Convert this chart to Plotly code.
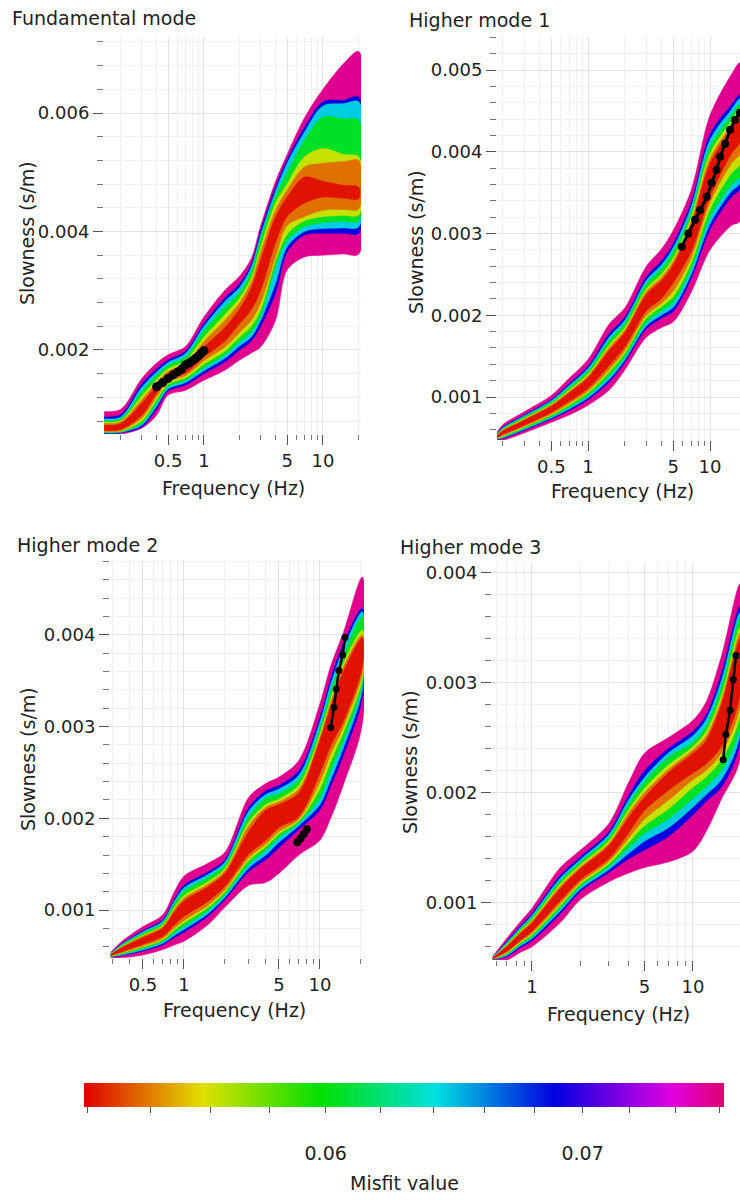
import math
import plotly.graph_objects as go
from plotly.colors import sample_colorscale

FIG_W, FIG_H = 740, 1200
FONT = "DejaVu Sans"
TXT = "#222222"

# ---------------- misfit scale ----------------
MISFIT_MIN = 0.0519
MISFIT_MAX = 0.0762
# misfit of each drawn band, outer (worst) -> inner (best)
LEVEL_MISFIT = [0.0755, 0.069, 0.0645, 0.0605, 0.0562, 0.0538, 0.0522]
CB_TICKS = [0.052, 0.054, 0.056, 0.058, 0.06, 0.062, 0.064, 0.066, 0.068, 0.07, 0.072, 0.074, 0.076]
CB_TEXT = ["", "", "", "", "<br>0.06", "", "", "", "", "<br>0.07", "", "", ""]

COLORSCALE = [
    [0.0, "rgb(224,0,0)"], [0.093, "rgb(224,112,0)"], [0.186, "rgb(224,224,0)"],
    [0.278, "rgb(112,224,0)"], [0.37, "rgb(0,224,0)"], [0.46, "rgb(0,224,112)"],
    [0.55, "rgb(0,224,224)"], [0.643, "rgb(0,112,224)"], [0.735, "rgb(0,0,224)"],
    [0.826, "rgb(112,0,224)"], [0.917, "rgb(224,0,224)"], [1.0, "rgb(224,0,112)"],
]

# ---------------- axis ticks ----------------
X_MAJOR = [0.5, 1, 5, 10]
X_MAJOR_TEXT = ["0.5", "1", "5", "10"]
X_MINOR = [0.2, 0.3, 0.4, 0.6, 0.7, 0.8, 0.9, 2, 3, 4, 6, 7, 8, 9, 20]

FUND_Y_MAJOR = [0.002, 0.004, 0.006]
FUND_Y_MAJOR_TEXT = ["0.002", "0.004", "0.006"]
FUND_Y_MINOR = [0.0008, 0.0012, 0.0016, 0.0024, 0.0028, 0.0032, 0.0036,
                0.0044, 0.0048, 0.0052, 0.0056, 0.0064, 0.0068, 0.0072]
HM_Y_MAJOR = [0.001, 0.002, 0.003, 0.004, 0.005]
HM_Y_MAJOR_TEXT = ["0.001", "0.002", "0.003", "0.004", "0.005"]
HM_Y_MINOR = [0.0006, 0.0008, 0.0012, 0.0014, 0.0016, 0.0018, 0.0022, 0.0024, 0.0026, 0.0028,
              0.0032, 0.0034, 0.0036, 0.0038, 0.0042, 0.0044, 0.0046, 0.0048, 0.0052, 0.0054]

# ---------------- Fundamental mode ----------------
FUND_F = [0.145, 0.2, 0.3, 0.4, 0.5, 0.7, 1, 1.5, 2, 2.5, 3, 4, 5, 7, 10, 15, 20]
FUND_UPPER = [
    [0.96e-3, 1.00e-3, 1.52e-3, 1.78e-3, 1.92e-3, 2.06e-3, 2.56e-3, 3.01e-3, 3.25e-3, 3.55e-3, 4.10e-3, 4.85e-3, 5.30e-3, 5.92e-3, 6.40e-3, 6.84e-3, 7.04e-3],
    [0.87e-3, 0.91e-3, 1.43e-3, 1.68e-3, 1.83e-3, 1.98e-3, 2.45e-3, 2.88e-3, 3.12e-3, 3.45e-3, 4.02e-3, 4.75e-3, 5.21e-3, 5.76e-3, 6.19e-3, 6.22e-3, 6.27e-3],
    [0.84e-3, 0.87e-3, 1.37e-3, 1.63e-3, 1.79e-3, 1.94e-3, 2.40e-3, 2.82e-3, 3.06e-3, 3.40e-3, 3.95e-3, 4.68e-3, 5.15e-3, 5.68e-3, 6.12e-3, 6.16e-3, 6.19e-3],
    [0.81e-3, 0.84e-3, 1.30e-3, 1.57e-3, 1.74e-3, 1.88e-3, 2.32e-3, 2.72e-3, 2.98e-3, 3.33e-3, 3.89e-3, 4.60e-3, 4.99e-3, 5.54e-3, 5.93e-3, 5.90e-3, 5.88e-3],
    [0.78e-3, 0.81e-3, 1.22e-3, 1.50e-3, 1.68e-3, 1.82e-3, 2.22e-3, 2.60e-3, 2.88e-3, 3.22e-3, 3.74e-3, 4.48e-3, 4.80e-3, 5.26e-3, 5.40e-3, 5.30e-3, 5.26e-3],
    [0.76e-3, 0.79e-3, 1.16e-3, 1.45e-3, 1.64e-3, 1.77e-3, 2.14e-3, 2.50e-3, 2.80e-3, 3.15e-3, 3.65e-3, 4.36e-3, 4.70e-3, 5.09e-3, 5.15e-3, 5.18e-3, 5.20e-3],
    [0.73e-3, 0.76e-3, 1.10e-3, 1.40e-3, 1.60e-3, 1.72e-3, 2.05e-3, 2.38e-3, 2.70e-3, 3.05e-3, 3.52e-3, 4.25e-3, 4.58e-3, 4.92e-3, 4.85e-3, 4.78e-3, 4.75e-3],
]
FUND_LOWER = [
    [0.58e-3, 0.58e-3, 0.68e-3, 0.90e-3, 1.24e-3, 1.32e-3, 1.49e-3, 1.66e-3, 1.83e-3, 1.95e-3, 2.05e-3, 2.50e-3, 3.35e-3, 3.57e-3, 3.60e-3, 3.62e-3, 3.62e-3],
    [0.59e-3, 0.60e-3, 0.70e-3, 1.00e-3, 1.31e-3, 1.41e-3, 1.60e-3, 1.80e-3, 2.00e-3, 2.15e-3, 2.40e-3, 2.96e-3, 3.65e-3, 3.94e-3, 3.97e-3, 3.97e-3, 3.97e-3],
    [0.60e-3, 0.61e-3, 0.73e-3, 1.05e-3, 1.34e-3, 1.45e-3, 1.65e-3, 1.86e-3, 2.07e-3, 2.22e-3, 2.50e-3, 3.13e-3, 3.74e-3, 4.00e-3, 4.05e-3, 4.06e-3, 4.08e-3],
    [0.61e-3, 0.62e-3, 0.76e-3, 1.10e-3, 1.38e-3, 1.49e-3, 1.70e-3, 1.92e-3, 2.14e-3, 2.30e-3, 2.58e-3, 3.40e-3, 3.85e-3, 4.08e-3, 4.15e-3, 4.17e-3, 4.18e-3],
    [0.62e-3, 0.63e-3, 0.80e-3, 1.16e-3, 1.42e-3, 1.53e-3, 1.76e-3, 1.98e-3, 2.22e-3, 2.40e-3, 2.68e-3, 3.50e-3, 3.95e-3, 4.18e-3, 4.25e-3, 4.27e-3, 4.28e-3],
    [0.63e-3, 0.64e-3, 0.85e-3, 1.21e-3, 1.46e-3, 1.57e-3, 1.82e-3, 2.05e-3, 2.30e-3, 2.50e-3, 2.80e-3, 3.57e-3, 4.10e-3, 4.25e-3, 4.36e-3, 4.37e-3, 4.38e-3],
    [0.64e-3, 0.66e-3, 0.90e-3, 1.27e-3, 1.50e-3, 1.61e-3, 1.88e-3, 2.15e-3, 2.45e-3, 2.68e-3, 3.01e-3, 3.81e-3, 4.25e-3, 4.48e-3, 4.58e-3, 4.56e-3, 4.55e-3],
]
FUND_OBS_F = [0.4, 0.45, 0.5, 0.55, 0.6, 0.65, 0.7, 0.75, 0.8, 0.85, 0.9, 0.95, 1.0]
FUND_OBS_S = [1.38e-3, 1.45e-3, 1.52e-3, 1.58e-3, 1.63e-3, 1.68e-3, 1.75e-3, 1.78e-3, 1.82e-3, 1.86e-3, 1.90e-3, 1.95e-3, 1.99e-3]

# ---------------- Higher mode 1 ----------------
HM1_F = [0.18, 0.2, 0.3, 0.5, 0.7, 1, 1.5, 2, 3, 4, 5, 7, 10, 15, 17.6]
HM1_UPPER = [
    [0.57e-3, 0.66e-3, 0.82e-3, 1.02e-3, 1.23e-3, 1.46e-3, 1.90e-3, 2.09e-3, 2.60e-3, 2.81e-3, 3.04e-3, 3.53e-3, 4.45e-3, 4.95e-3, 5.09e-3],
    [0.555e-3, 0.632e-3, 0.781e-3, 0.97e-3, 1.163e-3, 1.376e-3, 1.78e-3, 1.976e-3, 2.47e-3, 2.666e-3, 2.88e-3, 3.38e-3, 4.22e-3, 4.58e-3, 4.70e-3],
    [0.55e-3, 0.622e-3, 0.768e-3, 0.954e-3, 1.14e-3, 1.348e-3, 1.738e-3, 1.938e-3, 2.426e-3, 2.618e-3, 2.83e-3, 3.33e-3, 4.15e-3, 4.52e-3, 4.65e-3],
    [0.545e-3, 0.612e-3, 0.755e-3, 0.937e-3, 1.118e-3, 1.32e-3, 1.698e-3, 1.90e-3, 2.383e-3, 2.57e-3, 2.78e-3, 3.26e-3, 4.06e-3, 4.45e-3, 4.58e-3],
    [0.538e-3, 0.599e-3, 0.737e-3, 0.914e-3, 1.086e-3, 1.281e-3, 1.641e-3, 1.847e-3, 2.322e-3, 2.503e-3, 2.70e-3, 3.20e-3, 3.98e-3, 4.38e-3, 4.52e-3],
    [0.534e-3, 0.592e-3, 0.726e-3, 0.901e-3, 1.068e-3, 1.258e-3, 1.608e-3, 1.816e-3, 2.287e-3, 2.464e-3, 2.66e-3, 3.15e-3, 3.92e-3, 4.33e-3, 4.48e-3],
    [0.53e-3, 0.584e-3, 0.716e-3, 0.888e-3, 1.05e-3, 1.236e-3, 1.576e-3, 1.786e-3, 2.252e-3, 2.426e-3, 2.62e-3, 3.10e-3, 3.86e-3, 4.28e-3, 4.43e-3],
]
HM1_LOWER = [
    [0.47e-3, 0.47e-3, 0.56e-3, 0.69e-3, 0.78e-3, 0.90e-3, 1.09e-3, 1.33e-3, 1.73e-3, 1.85e-3, 1.92e-3, 2.28e-3, 2.80e-3, 3.10e-3, 3.15e-3],
    [0.482e-3, 0.493e-3, 0.591e-3, 0.73e-3, 0.834e-3, 0.967e-3, 1.187e-3, 1.421e-3, 1.834e-3, 1.965e-3, 2.05e-3, 2.45e-3, 3.05e-3, 3.45e-3, 3.55e-3],
    [0.486e-3, 0.50e-3, 0.602e-3, 0.743e-3, 0.852e-3, 0.99e-3, 1.22e-3, 1.452e-3, 1.869e-3, 2.004e-3, 2.10e-3, 2.50e-3, 3.12e-3, 3.52e-3, 3.62e-3],
    [0.49e-3, 0.51e-3, 0.615e-3, 0.759e-3, 0.875e-3, 1.018e-3, 1.26e-3, 1.49e-3, 1.913e-3, 2.052e-3, 2.16e-3, 2.57e-3, 3.20e-3, 3.60e-3, 3.70e-3],
    [0.494e-3, 0.521e-3, 0.63e-3, 0.779e-3, 0.902e-3, 1.051e-3, 1.309e-3, 1.535e-3, 1.965e-3, 2.109e-3, 2.23e-3, 2.64e-3, 3.30e-3, 3.74e-3, 3.85e-3],
    [0.498e-3, 0.529e-3, 0.641e-3, 0.792e-3, 0.92e-3, 1.074e-3, 1.341e-3, 1.566e-3, 2.00e-3, 2.148e-3, 2.30e-3, 2.70e-3, 3.38e-3, 3.86e-3, 3.98e-3],
    [0.505e-3, 0.54e-3, 0.656e-3, 0.812e-3, 0.947e-3, 1.107e-3, 1.39e-3, 1.611e-3, 2.052e-3, 2.205e-3, 2.40e-3, 2.78e-3, 3.45e-3, 3.98e-3, 4.12e-3],
]
HM1_OBS_F = [5.86, 6.64, 7.53, 8.28, 9.4, 10.3, 11.3, 12.1, 13.3, 14.6, 16.0, 17.6, 19.0]
HM1_OBS_S = [2.84e-3, 3.00e-3, 3.17e-3, 3.29e-3, 3.45e-3, 3.62e-3, 3.78e-3, 3.94e-3, 4.10e-3, 4.27e-3, 4.39e-3, 4.48e-3, 4.56e-3]

# ---------------- Higher mode 2 ----------------
HM2_F = [0.29, 0.35, 0.5, 0.7, 0.85, 1, 1.5, 2, 3, 4, 5, 7, 10, 12, 15, 20.5]
HM2_UPPER = [
    [0.54e-3, 0.66e-3, 0.82e-3, 0.95e-3, 1.20e-3, 1.37e-3, 1.51e-3, 1.63e-3, 2.23e-3, 2.38e-3, 2.45e-3, 2.63e-3, 3.25e-3, 3.66e-3, 4.04e-3, 4.63e-3],
    [0.532e-3, 0.635e-3, 0.777e-3, 0.897e-3, 1.119e-3, 1.271e-3, 1.416e-3, 1.546e-3, 2.12e-3, 2.30e-3, 2.36e-3, 2.52e-3, 3.10e-3, 3.52e-3, 3.92e-3, 4.29e-3],
    [0.529e-3, 0.628e-3, 0.764e-3, 0.882e-3, 1.096e-3, 1.242e-3, 1.389e-3, 1.522e-3, 2.08e-3, 2.26e-3, 2.32e-3, 2.47e-3, 3.05e-3, 3.46e-3, 3.86e-3, 4.25e-3],
    [0.526e-3, 0.619e-3, 0.749e-3, 0.863e-3, 1.067e-3, 1.207e-3, 1.356e-3, 1.492e-3, 2.02e-3, 2.22e-3, 2.27e-3, 2.42e-3, 2.98e-3, 3.38e-3, 3.78e-3, 4.20e-3],
    [0.522e-3, 0.606e-3, 0.727e-3, 0.836e-3, 1.026e-3, 1.157e-3, 1.309e-3, 1.45e-3, 1.96e-3, 2.15e-3, 2.21e-3, 2.36e-3, 2.92e-3, 3.30e-3, 3.70e-3, 4.05e-3],
    [0.52e-3, 0.599e-3, 0.715e-3, 0.821e-3, 1.003e-3, 1.129e-3, 1.282e-3, 1.426e-3, 1.92e-3, 2.12e-3, 2.18e-3, 2.32e-3, 2.88e-3, 3.26e-3, 3.66e-3, 4.00e-3],
    [0.517e-3, 0.592e-3, 0.702e-3, 0.806e-3, 0.98e-3, 1.10e-3, 1.255e-3, 1.402e-3, 1.86e-3, 2.09e-3, 2.15e-3, 2.28e-3, 2.85e-3, 3.22e-3, 3.61e-3, 3.97e-3],
]
HM2_LOWER = [
    [0.48e-3, 0.48e-3, 0.51e-3, 0.57e-3, 0.62e-3, 0.66e-3, 0.84e-3, 1.03e-3, 1.27e-3, 1.30e-3, 1.40e-3, 1.60e-3, 1.76e-3, 2.00e-3, 2.38e-3, 3.03e-3],
    [0.488e-3, 0.505e-3, 0.553e-3, 0.623e-3, 0.701e-3, 0.759e-3, 0.934e-3, 1.114e-3, 1.42e-3, 1.55e-3, 1.68e-3, 1.88e-3, 2.09e-3, 2.35e-3, 2.70e-3, 3.32e-3],
    [0.491e-3, 0.512e-3, 0.566e-3, 0.638e-3, 0.724e-3, 0.788e-3, 0.961e-3, 1.138e-3, 1.46e-3, 1.60e-3, 1.74e-3, 1.92e-3, 2.15e-3, 2.42e-3, 2.78e-3, 3.40e-3],
    [0.494e-3, 0.521e-3, 0.581e-3, 0.657e-3, 0.753e-3, 0.823e-3, 0.994e-3, 1.168e-3, 1.50e-3, 1.65e-3, 1.79e-3, 1.95e-3, 2.22e-3, 2.52e-3, 2.86e-3, 3.48e-3],
    [0.497e-3, 0.53e-3, 0.597e-3, 0.676e-3, 0.782e-3, 0.859e-3, 1.028e-3, 1.198e-3, 1.54e-3, 1.69e-3, 1.83e-3, 1.97e-3, 2.32e-3, 2.62e-3, 2.95e-3, 3.52e-3],
    [0.499e-3, 0.538e-3, 0.609e-3, 0.692e-3, 0.806e-3, 0.887e-3, 1.054e-3, 1.222e-3, 1.57e-3, 1.72e-3, 1.86e-3, 1.99e-3, 2.40e-3, 2.70e-3, 3.01e-3, 3.58e-3],
    [0.503e-3, 0.548e-3, 0.628e-3, 0.714e-3, 0.84e-3, 0.93e-3, 1.095e-3, 1.258e-3, 1.61e-3, 1.76e-3, 1.90e-3, 2.02e-3, 2.49e-3, 2.79e-3, 3.07e-3, 3.65e-3],
]
HM2_OBS_A_F = [12.0, 12.7, 13.2, 13.8, 14.7, 15.3]
HM2_OBS_A_S = [2.99e-3, 3.21e-3, 3.41e-3, 3.61e-3, 3.78e-3, 3.97e-3]
HM2_OBS_B_F = [6.8, 7.2, 7.6, 8.0]
HM2_OBS_B_S = [1.74e-3, 1.78e-3, 1.83e-3, 1.88e-3]

# ---------------- Higher mode 3 ----------------
HM3_F = [0.57, 0.7, 0.85, 1, 1.5, 2, 3, 4, 5, 7, 10, 12, 15, 19.6]
HM3_UPPER = [
    [0.51e-3, 0.68e-3, 0.83e-3, 0.95e-3, 1.32e-3, 1.48e-3, 1.72e-3, 2.10e-3, 2.36e-3, 2.50e-3, 2.66e-3, 2.82e-3, 3.24e-3, 3.90e-3],
    [0.506e-3, 0.652e-3, 0.791e-3, 0.901e-3, 1.25e-3, 1.417e-3, 1.646e-3, 1.98e-3, 2.20e-3, 2.40e-3, 2.56e-3, 2.70e-3, 3.08e-3, 3.70e-3],
    [0.504e-3, 0.642e-3, 0.777e-3, 0.884e-3, 1.225e-3, 1.395e-3, 1.619e-3, 1.94e-3, 2.14e-3, 2.36e-3, 2.52e-3, 2.66e-3, 3.02e-3, 3.64e-3],
    [0.503e-3, 0.632e-3, 0.763e-3, 0.866e-3, 1.20e-3, 1.372e-3, 1.593e-3, 1.90e-3, 2.10e-3, 2.32e-3, 2.46e-3, 2.60e-3, 2.96e-3, 3.58e-3],
    [0.501e-3, 0.62e-3, 0.746e-3, 0.845e-3, 1.17e-3, 1.345e-3, 1.561e-3, 1.85e-3, 2.04e-3, 2.25e-3, 2.42e-3, 2.55e-3, 2.88e-3, 3.50e-3],
    [0.50e-3, 0.612e-3, 0.735e-3, 0.831e-3, 1.15e-3, 1.327e-3, 1.54e-3, 1.82e-3, 2.00e-3, 2.21e-3, 2.39e-3, 2.51e-3, 2.84e-3, 3.45e-3],
    [0.499e-3, 0.604e-3, 0.724e-3, 0.817e-3, 1.13e-3, 1.309e-3, 1.519e-3, 1.78e-3, 1.96e-3, 2.18e-3, 2.36e-3, 2.47e-3, 2.80e-3, 3.40e-3],
]
HM3_LOWER = [
    [0.48e-3, 0.48e-3, 0.55e-3, 0.60e-3, 0.82e-3, 1.03e-3, 1.19e-3, 1.27e-3, 1.32e-3, 1.37e-3, 1.47e-3, 1.64e-3, 1.94e-3, 2.30e-3],
    [0.485e-3, 0.512e-3, 0.595e-3, 0.656e-3, 0.90e-3, 1.102e-3, 1.275e-3, 1.40e-3, 1.48e-3, 1.60e-3, 1.80e-3, 1.92e-3, 2.05e-3, 2.45e-3],
    [0.486e-3, 0.522e-3, 0.609e-3, 0.674e-3, 0.925e-3, 1.125e-3, 1.301e-3, 1.45e-3, 1.56e-3, 1.68e-3, 1.87e-3, 1.98e-3, 2.12e-3, 2.52e-3],
    [0.488e-3, 0.532e-3, 0.623e-3, 0.691e-3, 0.95e-3, 1.147e-3, 1.328e-3, 1.50e-3, 1.63e-3, 1.76e-3, 1.95e-3, 2.05e-3, 2.20e-3, 2.60e-3],
    [0.489e-3, 0.542e-3, 0.637e-3, 0.709e-3, 0.975e-3, 1.17e-3, 1.354e-3, 1.55e-3, 1.70e-3, 1.85e-3, 2.05e-3, 2.14e-3, 2.30e-3, 2.70e-3],
    [0.49e-3, 0.55e-3, 0.648e-3, 0.723e-3, 0.995e-3, 1.188e-3, 1.376e-3, 1.59e-3, 1.76e-3, 1.93e-3, 2.12e-3, 2.20e-3, 2.36e-3, 2.78e-3],
    [0.492e-3, 0.56e-3, 0.662e-3, 0.74e-3, 1.02e-3, 1.21e-3, 1.402e-3, 1.64e-3, 1.84e-3, 2.02e-3, 2.18e-3, 2.26e-3, 2.42e-3, 2.88e-3],
]
HM3_OBS_F = [15.4, 16.0, 17.0, 17.8, 18.5]
HM3_OBS_S = [2.30e-3, 2.53e-3, 2.75e-3, 3.03e-3, 3.25e-3]


# ---------------- helpers ----------------
def pxx(p):
    return p / FIG_W


def pxy(p):
    return 1 - p / FIG_H


LOG_MIN, LOG_MAX = math.log10(MISFIT_MIN), math.log10(MISFIT_MAX)


def misfit_color(m):
    t = (math.log10(m) - LOG_MIN) / (LOG_MAX - LOG_MIN)
    return sample_colorscale(COLORSCALE, [t])[0]


PANELS = [
    dict(title="Fundamental mode", f=FUND_F, up=FUND_UPPER, lo=FUND_LOWER,
         obs=[(FUND_OBS_F, FUND_OBS_S, 9, 7)],
         xdom=(104, 361), ydom=(37, 434), xr=(0.1445, 20.9), yr=(0.000582, 0.007283),
         ymaj=FUND_Y_MAJOR, ymajt=FUND_Y_MAJOR_TEXT, ymin=FUND_Y_MINOR,
         tpos=(10, 18), ytpos=(27, 233), xtpos=(233, 488)),
    dict(title="Higher mode 1", f=HM1_F, up=HM1_UPPER, lo=HM1_LOWER,
         obs=[(HM1_OBS_F, HM1_OBS_S, 8, 3)],
         xdom=(497, 740), ydom=(37, 440), xr=(0.1795, 17.6), yr=(0.000474, 0.005406),
         ymaj=HM_Y_MAJOR, ymajt=HM_Y_MAJOR_TEXT, ymin=HM_Y_MINOR,
         tpos=(407, 20), ytpos=(416, 242), xtpos=(622, 491)),
    dict(title="Higher mode 2", f=HM2_F, up=HM2_UPPER, lo=HM2_LOWER,
         obs=[(HM2_OBS_A_F, HM2_OBS_A_S, 7, 2.5), (HM2_OBS_B_F, HM2_OBS_B_S, 8, 4)],
         xdom=(110, 364), ydom=(560, 958), xr=(0.286, 21.1), yr=(0.000478, 0.004815),
         ymaj=HM_Y_MAJOR, ymajt=HM_Y_MAJOR_TEXT, ymin=HM_Y_MINOR,
         tpos=(15, 545), ytpos=(28, 759), xtpos=(235, 1010)),
    dict(title="Higher mode 3", f=HM3_F, up=HM3_UPPER, lo=HM3_LOWER,
         obs=[(HM3_OBS_F, HM3_OBS_S, 7, 2.5)],
         xdom=(492, 740), ydom=(563, 960), xr=(0.565, 19.6), yr=(0.00048, 0.00409),
         ymaj=HM_Y_MAJOR, ymajt=HM_Y_MAJOR_TEXT, ymin=HM_Y_MINOR,
         tpos=(398, 547), ytpos=(410, 762), xtpos=(618, 1014)),
]

TITLE_FONT = dict(family=FONT, size=19, color=TXT)
TICK_FONT = dict(family=FONT, size=18, color=TXT)

fig = go.Figure()
layout = dict(
    width=FIG_W, height=FIG_H,
    margin=dict(l=0, r=0, t=0, b=0),
    paper_bgcolor="white", plot_bgcolor="white",
    showlegend=False,
    font=dict(family=FONT, size=18, color=TXT),
    annotations=[],
)

for i, p in enumerate(PANELS, start=1):
    xa = "x" if i == 1 else f"x{i}"
    ya = "y" if i == 1 else f"y{i}"
    xkey = "xaxis" if i == 1 else f"xaxis{i}"
    ykey = "yaxis" if i == 1 else f"yaxis{i}"

    for k, m in enumerate(LEVEL_MISFIT):
        col = misfit_color(m)
        fig.add_trace(go.Scatter(
            x=p["f"] + p["f"][::-1],
            y=p["up"][k] + p["lo"][k][::-1],
            xaxis=xa, yaxis=ya, mode="lines", fill="toself",
            fillcolor=col, line=dict(width=0.5, color=col, shape="spline", smoothing=0.9),
            hoverinfo="skip",
        ))
    for fx, sy, msize, lw in p["obs"]:
        fig.add_trace(go.Scatter(
            x=fx, y=sy, xaxis=xa, yaxis=ya, mode="lines+markers",
            line=dict(color="black", width=lw),
            marker=dict(color="black", size=msize),
            hoverinfo="skip",
        ))

    layout[xkey] = dict(
        type="log", anchor=ya,
        domain=[pxx(p["xdom"][0]), pxx(p["xdom"][1])],
        range=[math.log10(p["xr"][0]), math.log10(p["xr"][1])],
        tickmode="array", tickvals=X_MAJOR, ticktext=X_MAJOR_TEXT,
        ticks="outside", ticklen=10, tickwidth=1, tickcolor="#555555",
        showgrid=True, gridcolor="#e2e2e2", gridwidth=1,
        minor=dict(tickmode="array", tickvals=X_MINOR, ticks="outside", ticklen=5,
                   tickwidth=1, tickcolor="#777777", showgrid=True, gridcolor="#efefef"),
        showline=False, zeroline=False,
        tickfont=TICK_FONT,
    )
    layout[ykey] = dict(
        anchor=xa,
        domain=[pxy(p["ydom"][1]), pxy(p["ydom"][0])],
        range=[p["yr"][0], p["yr"][1]],
        tickmode="array", tickvals=p["ymaj"], ticktext=p["ymajt"],
        ticks="outside", ticklen=10, tickwidth=1, tickcolor="#555555",
        showgrid=True, gridcolor="#e2e2e2", gridwidth=1,
        minor=dict(tickmode="array", tickvals=p["ymin"], ticks="outside", ticklen=6,
                   tickwidth=1, tickcolor="#777777", showgrid=True, gridcolor="#efefef"),
        showline=False, zeroline=False,
        tickfont=TICK_FONT,
    )

    layout["annotations"] += [
        dict(text=p["title"], x=pxx(p["tpos"][0]), y=pxy(p["tpos"][1]),
             xref="paper", yref="paper", xanchor="left", yanchor="middle",
             showarrow=False, font=TITLE_FONT),
        dict(text="Slowness (s/m)", x=pxx(p["ytpos"][0]), y=pxy(p["ytpos"][1]),
             xref="paper", yref="paper", xanchor="center", yanchor="middle",
             textangle=-90, showarrow=False, font=TITLE_FONT),
        dict(text="Frequency (Hz)", x=pxx(p["xtpos"][0]), y=pxy(p["xtpos"][1]),
             xref="paper", yref="paper", xanchor="center", yanchor="middle",
             showarrow=False, font=TITLE_FONT),
    ]

# colour bar (shared misfit scale)
fig.add_trace(go.Scatter(
    x=[None] * len(LEVEL_MISFIT), y=[None] * len(LEVEL_MISFIT), mode="markers",
    marker=dict(color=[math.log10(m) for m in LEVEL_MISFIT], coloraxis="coloraxis"),
    hoverinfo="skip",
))
layout["coloraxis"] = dict(
    colorscale=COLORSCALE, cmin=LOG_MIN, cmax=LOG_MAX,
    colorbar=dict(
        orientation="h", lenmode="pixels", len=640, thicknessmode="pixels", thickness=24,
        xpad=0, ypad=0,
        x=pxx(404), xanchor="center", y=pxy(1083), yanchor="top",
        outlinewidth=0, ticks="outside", ticklen=6, tickcolor="#555555",
        tickmode="array", tickvals=[math.log10(v) for v in CB_TICKS], ticktext=CB_TEXT,
        tickfont=dict(family=FONT, size=19, color=TXT),
    ),
)
layout["annotations"].append(
    dict(text="Misfit value", x=pxx(404), y=pxy(1183), xref="paper", yref="paper",
         xanchor="center", yanchor="middle", showarrow=False, font=TITLE_FONT)
)

fig.update_layout(**layout)
fig.write_html("out.html")
